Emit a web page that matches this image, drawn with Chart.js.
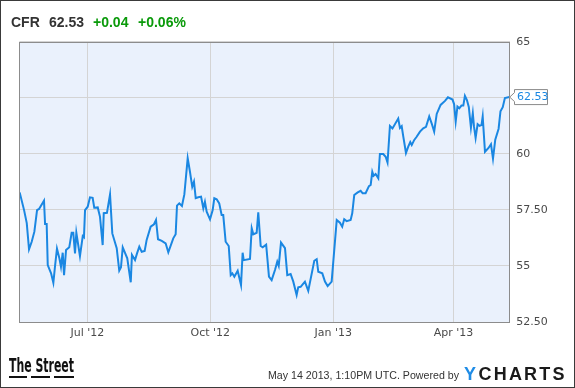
<!DOCTYPE html>
<html>
<head>
<meta charset="utf-8">
<script src="https://cdn.jsdelivr.net/npm/chart.js@4"></script>
<style>
  html, body { margin: 0; padding: 0; background: #fff; }
  canvas { display: block; }
</style>
</head>
<body>
<canvas id="cfrChart" width="575" height="388"></canvas>
<script>
// CFR daily close. days = days since May 14 2012
const days = [
  -2.6, 0.7, 2.7, 4.4, 6.4, 8.4, 10.4, 11.9, 15.6, 16.4, 17.6, 18.4, 20.9, 22.6, 23.8, 25.3, 27.1, 28.3,
  29.6, 30.6, 32.1, 34.5, 36.3, 37.5, 38.8, 39.8, 42.5, 44.6, 45.5, 46.3, 48.3, 50.0, 52.0, 53.2, 55.8,
  57.5, 59.5, 60.3, 62.7, 65.0, 66.7, 70.0, 71.9, 73.2, 74.5, 77.9, 80.5, 81.4, 83.7, 85.2, 86.9, 88.7, 90.9,
  92.4, 95.4, 97.9, 99.4, 100.9, 103.7, 106.6, 108.6, 112.3, 114.1, 115.1, 116.8, 118.8, 120.6, 123.1, 124.8,
  126.5, 127.8, 129.1, 131.0, 133.1, 134.8, 136.0, 137.3, 139.8, 141.8, 143.0, 144.8, 146.7, 148.5, 149.7,
  151.5, 153.8, 155.3, 156.5, 158.0, 160.5, 163.0, 164.2, 165.0, 169.7, 171.0, 172.2, 174.7, 175.9, 177.7,
  179.2, 181.8,
  183.9, 185.9, 188.4, 190.1, 191.2, 192.9, 195.9, 197.6, 200.1, 202.1, 204.6, 205.8, 207.6, 210.8, 213.3,
  217.8, 219.6, 220.8, 223.8, 225.8, 227.8, 230.8, 234.6, 237.0, 238.7, 240.2, 242.0, 245.0, 246.2, 247.7,
  250.3, 252.5, 254.0, 256.2, 258.7, 260.0, 261.2, 262.2, 263.7, 265.7, 266.9, 269.4, 271.2, 272.6, 274.4,
  276.3, 280.6, 281.9, 283.2, 284.4, 286.4, 288.1, 289.6, 290.7, 292.6, 294.4, 296.9, 299.3, 301.4, 303.8,
  305.6, 307.5, 309.4, 311.1, 312.3, 315.6, 317.8, 321.2, 322.4, 323.6, 324.9, 326.3, 327.9, 329.3, 330.5,
  332.0, 333.4, 335.0, 336.4, 337.3, 338.5, 340.0, 341.4, 342.9, 343.8, 345.5, 348.0, 350.0, 351.5, 353.2,
  355.7, 357.1, 358.8, 360.4, 363.7
];
const prices = [
  58.28, 57.49, 56.91, 55.74, 56.08, 56.53, 57.49, 57.54, 57.91, 56.87, 56.87, 55.04, 54.67, 54.25, 54.96, 55.77, 55.34, 54.96,
  55.59, 54.59, 55.71, 55.83, 56.48, 56.48, 55.56, 56.48, 55.44, 56.33, 56.28, 57.49, 57.64, 58.06, 58.04, 57.60, 57.61,
  57.19, 55.93, 57.35, 57.37, 58.19, 56.45, 55.79, 54.79, 54.94, 55.83, 55.34, 54.27, 55.49, 55.26, 55.56, 55.86, 55.63, 55.67,
  56.16, 56.75, 56.86, 57.05, 56.19, 56.12, 56.01, 55.61, 56.23, 56.41, 57.69, 57.79, 57.67, 58.19, 59.80, 59.20,
  58.53, 58.76, 58.02, 58.06, 58.09, 57.57, 57.86, 57.42, 57.08, 57.49, 58.02, 57.97, 57.79, 57.27, 57.27,
  56.08, 55.89, 54.59, 54.67, 54.52, 54.79, 54.15, 55.59, 55.26, 55.31, 56.68, 56.41, 56.48, 57.39, 55.89,
  55.83, 55.95,
  54.52, 54.37, 54.82, 55.19, 55.00, 56.04, 55.79, 54.59, 54.64, 54.30, 53.70, 54.05, 54.07, 54.30, 53.89,
  55.23, 55.30, 54.74, 54.67, 54.30, 54.10, 54.30, 57.05, 56.93, 56.75, 57.08, 57.00, 57.05, 57.35, 58.16,
  58.28, 58.35, 58.24, 58.24, 58.56, 58.61, 59.20, 59.02, 59.10, 58.91, 59.99, 59.99, 59.87, 59.61, 61.24,
  61.13, 61.57, 61.15, 61.23, 60.77, 60.04, 60.32, 60.52, 60.39, 60.62, 60.76, 60.99, 61.14, 61.20, 61.67,
  61.36, 60.99, 61.78, 62.02, 62.18, 62.36, 62.52, 62.42, 62.22, 61.44, 62.11, 62.03, 62.15, 62.15, 62.59,
  62.40, 62.09, 61.17, 61.81, 61.21, 60.71, 61.32, 61.25, 61.28, 61.67, 60.09, 60.25, 60.43, 59.78, 60.63,
  61.12, 61.90, 62.08, 62.49, 62.53
];

const xTickDays = [48, 140, 232, 322];
const xTickLabels = ["Jul '12", "Oct '12", "Jan '13", "Apr '13"];
const yTicks = [52.5, 55, 57.5, 60, 62.5, 65];
const yTickLabels = ['52.50', '55', '57.50', '60', '', '65'];

const ticker = 'CFR';
const lastPrice = '62.53';
const change = '+0.04';
const changePct = '+0.06%';
const stamp = 'May 14 2013, 1:10PM UTC. Powered by';

if (days.length !== prices.length) console.error('length mismatch', days.length, prices.length);

const points = days.map((d, i) => ({ x: d, y: prices[i] }));

const decorations = {
  id: 'decorations',
  beforeDraw(chart) {
    const ctx = chart.ctx;
    const a = chart.chartArea;
    ctx.save();
    ctx.fillStyle = '#ffffff';
    ctx.fillRect(0, 0, chart.width, chart.height);
    ctx.fillStyle = '#eaf1fc';
    ctx.fillRect(a.left, a.top, a.right - a.left, a.bottom - a.top);
    ctx.restore();
  },
  afterDraw(chart) {
    const ctx = chart.ctx;
    const a = chart.chartArea;
    ctx.save();

    // plot frame
    ctx.strokeStyle = '#8c8c8c';
    ctx.lineWidth = 1;
    ctx.strokeRect(Math.round(a.left) + 0.5, Math.round(a.top) + 0.5,
      Math.round(a.right - a.left), Math.round(a.bottom - a.top));

    // outer frame
    ctx.strokeStyle = '#3a3a3a';
    ctx.strokeRect(0.5, 0.5, chart.width - 1, chart.height - 1);

    // header
    ctx.textBaseline = 'alphabetic';
    ctx.font = 'bold 14px "Liberation Sans", Arial, sans-serif';
    ctx.fillStyle = '#333333';
    ctx.fillText(ticker, 11, 26.5);
    ctx.fillText(lastPrice, 49, 26.5);
    ctx.fillStyle = '#0a9a0a';
    ctx.fillText(change, 93, 26.5);
    ctx.fillText(changePct, 138, 26.5);

    // price flag
    const y = chart.scales.y.getPixelForValue(prices[prices.length - 1]);
    const tip = a.right;
    const bl = 514.5, br = 547.5, bt = y - 7.5, bb = y + 7.5;
    ctx.beginPath();
    ctx.moveTo(tip, y);
    ctx.lineTo(bl, y - 4.5);
    ctx.lineTo(bl, bt);
    ctx.lineTo(br, bt);
    ctx.lineTo(br, bb);
    ctx.lineTo(bl, bb);
    ctx.lineTo(bl, y + 4.5);
    ctx.closePath();
    ctx.fillStyle = '#ffffff';
    ctx.fill();
    ctx.strokeStyle = '#8a8a8a';
    ctx.stroke();
    ctx.fillStyle = '#1a87e2';
    ctx.font = '11px "DejaVu Sans", sans-serif';
    ctx.textBaseline = 'middle';
    ctx.fillText(lastPrice, 517, y + 0.5);

    // footer: The Street
    ctx.fillStyle = '#111111';
    ctx.textBaseline = 'alphabetic';
    ctx.font = 'bold 19px "Liberation Sans Narrow", "DejaVu Sans Condensed", sans-serif';
    const w = ctx.measureText('The Street').width;
    ctx.save();
    ctx.translate(9, 372);
    ctx.scale(65 / w, 1);
    ctx.fillText('The Street', 0, 0);
    ctx.restore();
    ctx.fillRect(9, 376, 18, 2);
    ctx.fillRect(31, 376, 19, 2);
    ctx.fillRect(54, 376, 20, 2);

    // footer: stamp
    ctx.fillStyle = '#333333';
    ctx.font = '11px "Liberation Sans", Arial, sans-serif';
    ctx.textBaseline = 'middle';
    ctx.fillText(stamp, 268, 375.5, 191);

    // footer: YCHARTS
    ctx.textBaseline = 'alphabetic';
    ctx.font = 'bold 18px "Liberation Sans", Arial, sans-serif';
    ctx.fillStyle = '#1f8ce6';
    ctx.fillText('Y', 464, 380);
    ctx.fillStyle = '#1a1a1a';
    let x = 478.5;
    for (const ch of 'CHARTS') {
      ctx.fillText(ch, x, 380);
      x += ctx.measureText(ch).width + 2.2;
    }
    ctx.restore();
  }
};

Chart.defaults.font.family = '"DejaVu Sans", sans-serif';

const ctx = document.getElementById('cfrChart').getContext('2d');
new Chart(ctx, {
  type: 'line',
  data: {
    datasets: [{
      label: ticker,
      data: points,
      borderColor: '#1a87e2',
      borderWidth: 2,
      pointRadius: 0,
      tension: 0,
      fill: false
    }]
  },
  options: {
    responsive: false,
    animation: false,
    devicePixelRatio: 1,
    layout: { padding: { left: 19.4, top: 41.7, right: 0, bottom: 0 } },
    plugins: {
      legend: { display: false },
      tooltip: { enabled: false }
    },
    scales: {
      x: {
        type: 'linear',
        min: -2.8,
        max: 364,
        afterBuildTicks: s => { s.ticks = xTickDays.map(v => ({ value: v })); },
        afterFit: s => { s.height = 66; },
        grid: { color: '#d4d4d4', drawTicks: false },
        border: { display: false },
        ticks: {
          autoSkip: false,
          maxRotation: 0,
          padding: 5,
          color: '#4a4a4a',
          font: { size: 11 },
          callback: (v, i) => xTickLabels[i]
        }
      },
      y: {
        position: 'right',
        min: 52.5,
        max: 65,
        afterBuildTicks: s => { s.ticks = yTicks.map(v => ({ value: v })); },
        afterFit: s => { s.width = 65.3; },
        grid: { color: '#d4d4d4', drawTicks: false },
        border: { display: false },
        ticks: {
          padding: 6.5,
          color: '#4a4a4a',
          font: { size: 11 },
          callback: (v, i) => yTickLabels[i]
        }
      }
    }
  },
  plugins: [decorations]
});
</script>
</body>
</html>
